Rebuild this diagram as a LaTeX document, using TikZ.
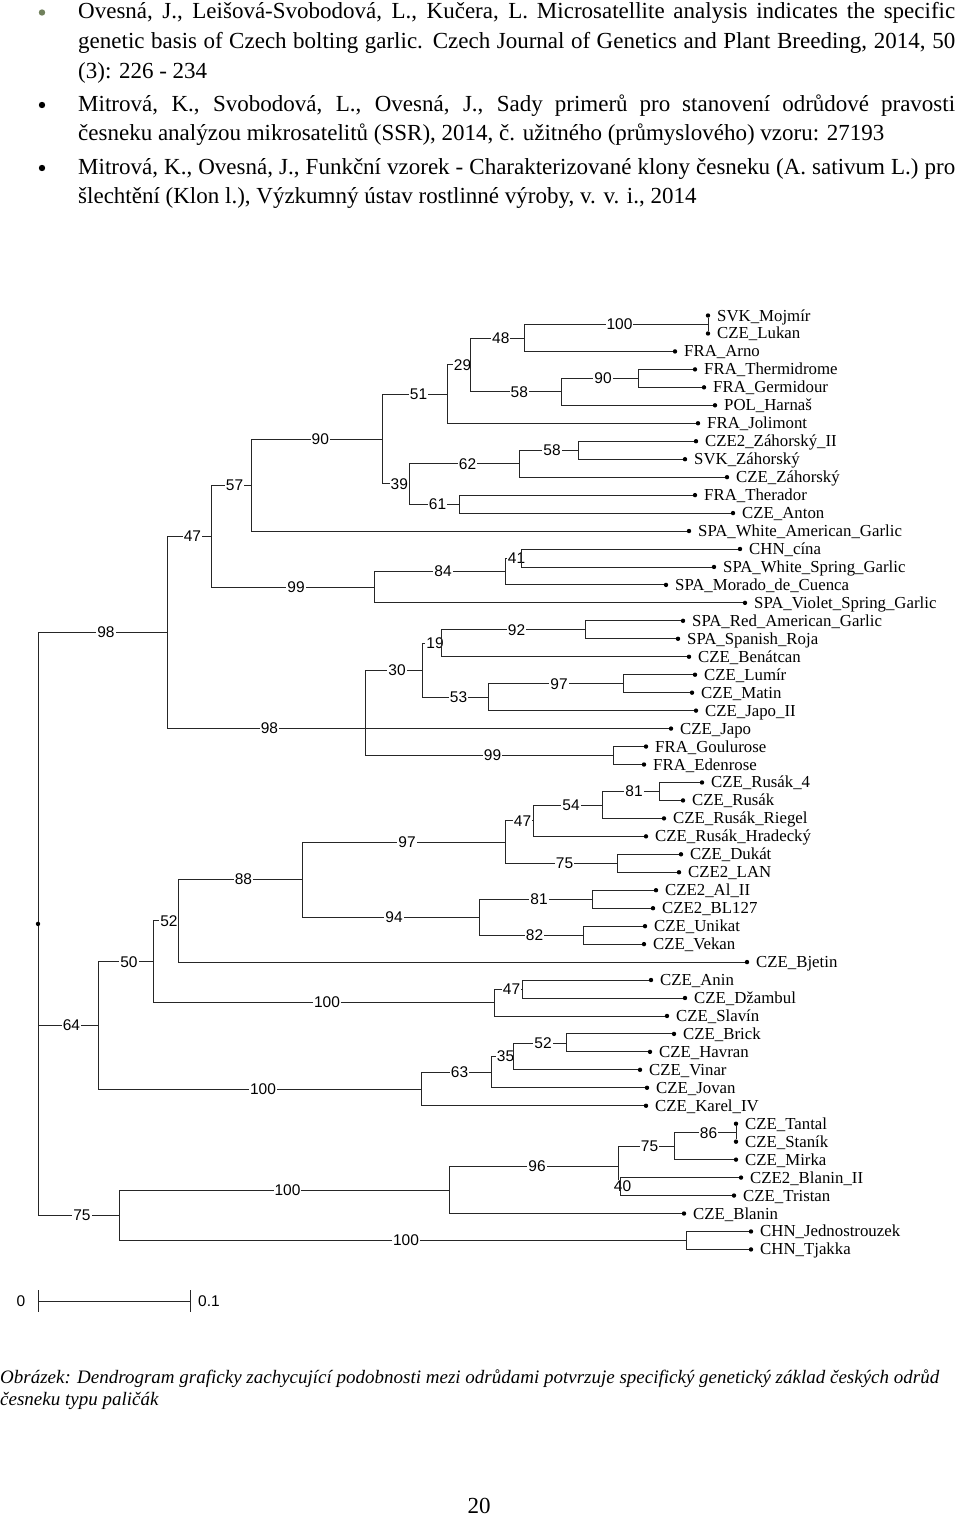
\documentclass[tikz,border=0pt]{standalone}
\usepackage{fontspec}
\setmainfont{Liberation Serif}
\newfontfamily\numfont{Liberation Sans}
\usetikzlibrary{positioning}
\definecolor{bulletgreen}{RGB}{112,128,92}

\begin{document}
\begin{tikzpicture}[x=1pt, y=-1pt,
  every node/.style={inner sep=0pt},
  body/.style ={anchor=base west, font=\fontsize{23}{28}\selectfont},
  capt/.style ={anchor=base west, font=\fontsize{19}{22}\selectfont\itshape},
  bullet/.style={circle, fill=black, minimum size=6.4pt},
  br/.style   ={draw=black!85, line width=0.9pt},
  bs/.style   ={pos=0.75, xshift=3.5pt, fill=white, inner sep=1pt, font=\numfont\fontsize{15.5}{16}\selectfont},
  leaf/.style ={circle, fill=black, minimum size=4.4pt},
  lname/.style={anchor=base west, font=\fontsize{16.8}{18}\selectfont},
  scl/.style  ={font=\numfont\fontsize{15.5}{16}\selectfont},
]

\useasboundingbox (0,0) rectangle (960,1519);

% references above the figure
\node[bullet, fill=bulletgreen] (b1) at (42,12.5) {};
\node[body] (t1) at (78,18.5) {\makebox[877pt][s]{Ovesná, J., Leišová-Svobodová, L., Kučera, L. Microsatellite analysis indicates the specific}};
\node[body] (t2) at (78,48.3) {\makebox[877pt][s]{genetic basis of Czech bolting garlic. Czech Journal of Genetics and Plant Breeding, 2014, 50}};
\node[body] (t3) at (78,78) {(3): 226 - 234};
\node[bullet] (b2) at (42,105) {};
\node[body] (t4) at (78,111) {\makebox[877pt][s]{Mitrová, K., Svobodová, L., Ovesná, J., Sady primerů pro stanovení odrůdové pravosti}};
\node[body] (t5) at (78,140.8) {česneku analýzou mikrosatelitů (SSR), 2014, č. užitného (průmyslového) vzoru: 27193};
\node[bullet] (b3) at (42,168) {};
\node[body] (t6) at (78,174) {\makebox[877pt][s]{Mitrová, K., Ovesná, J., Funkční vzorek - Charakterizované klony česneku (A. sativum L.) pro}};
\node[body] (t7) at (78,203.5) {šlechtění (Klon l.), Výzkumný ústav rostlinné výroby, v. v. i., 2014};

% leaves
\foreach \nm/\xx/\txt [count=\i] in {
  svkmoj/708/SVK\_Mojmír, czeluk/708/CZE\_Lukan, fraarn/675/FRA\_Arno,
  frathe/695/FRA\_Thermidrome, fragerm/704/FRA\_Germidour, polhar/715/POL\_Harnaš,
  frajol/698/FRA\_Jolimont, czezah2/696/CZE2\_Záhorský\_II, svkzah/685/SVK\_Záhorský,
  czezah/727/CZE\_Záhorský, frather/695/FRA\_Therador, czeant/733/CZE\_Anton,
  spawam/689/SPA\_White\_American\_Garlic, chncin/740/CHN\_cína,
  spawsp/714/SPA\_White\_Spring\_Garlic, spamor/666/SPA\_Morado\_de\_Cuenca,
  spavio/745/SPA\_Violet\_Spring\_Garlic, sparam/683/SPA\_Red\_American\_Garlic,
  spaspr/678/SPA\_Spanish\_Roja, czeben/689/CZE\_Benátcan, czelum/695/CZE\_Lumír,
  czemat/692/CZE\_Matin, czejap2/696/CZE\_Japo\_II, czejap/671/CZE\_Japo,
  fragou/646/FRA\_Goulurose, fraede/644/FRA\_Edenrose, czerus4/702/CZE\_Rusák\_4,
  czerus/683/CZE\_Rusák, czerusr/664/CZE\_Rusák\_Riegel, czerush/646/CZE\_Rusák\_Hradecký,
  czeduk/681/CZE\_Dukát, czelan/679/CZE2\_LAN, czeal/656/CZE2\_Al\_II,
  czebl/653/CZE2\_BL127, czeuni/645/CZE\_Unikat, czevek/644/CZE\_Vekan,
  czebje/747/CZE\_Bjetin, czeani/651/CZE\_Anin, czedza/685/CZE\_Džambul,
  czesla/667/CZE\_Slavín, czebri/674/CZE\_Brick, czehav/650/CZE\_Havran,
  czevin/640/CZE\_Vinar, czejov/647/CZE\_Jovan, czekar/646/CZE\_Karel\_IV,
  czetan/736/CZE\_Tantal, czesta/736/CZE\_Staník, czemir/736/CZE\_Mirka,
  czebla2/741/CZE2\_Blanin\_II, czetri/734/CZE\_Tristan, czebla/684/CZE\_Blanin,
  chnjed/751/CHN\_Jednostrouzek, chntja/751/CHN\_Tjakka}{
  \pgfmathsetmacro\yy{315.5+(\i-1)*17.96}
  \node[leaf] (\nm) at (\xx,\yy) {};
  \node[lname] (t\nm) at ({\xx+9},{\yy+5.5}) {\txt};
}

% inner nodes of the tree
\coordinate (root)  at (38,923.9);
\coordinate (n98a)  at (167,632.4);
\coordinate (n47a)  at (211,536.1);
\coordinate (n57)   at (251,485);
\coordinate (n90b)  at (382.5,439);
\coordinate (n51)   at (447.5,394.1);
\coordinate (n29)   at (470.5,364.9);
\coordinate (n48)   at (524,338);
\coordinate (n100a) at (708,324.5);
\coordinate (n58a)  at (561,391.8);
\coordinate (n90a)  at (638,378.4);
\coordinate (n39)   at (409,483.9);
\coordinate (n62)   at (519,463.7);
\coordinate (n58b)  at (578,450.2);
\coordinate (n61)   at (459,504.1);
\coordinate (n99a)  at (374,587.2);
\coordinate (n84)   at (505,571.5);
\coordinate (n41)   at (521,558);
\coordinate (n98b)  at (365,728.6);
\coordinate (n30)   at (422,670.2);
\coordinate (n19)   at (441,643.3);
\coordinate (n92)   at (585,629.8);
\coordinate (n53)   at (488,697.2);
\coordinate (n97a)  at (623,683.7);
\coordinate (n99b)  at (613,755.5);
\coordinate (n64)   at (98,1025.3);
\coordinate (n50)   at (153,961.7);
\coordinate (n52a)  at (178,920.9);
\coordinate (n88)   at (302,879.6);
\coordinate (n97b)  at (505,842);
\coordinate (n47b)  at (533,820.7);
\coordinate (n54)   at (602,805);
\coordinate (n81a)  at (659,791.5);
\coordinate (n75b)  at (617,863.3);
\coordinate (n94)   at (479,917.2);
\coordinate (n81b)  at (592,899.3);
\coordinate (n82)   at (583,935.2);
\coordinate (n100b) at (494,1002.5);
\coordinate (n47c)  at (522,989);
\coordinate (n100c) at (421,1089);
\coordinate (n63)   at (491,1072.1);
\coordinate (n35)   at (513,1056.4);
\coordinate (n52c)  at (566,1043);
\coordinate (n75a)  at (119,1215.3);
\coordinate (n100e) at (449,1190);
\coordinate (n96)   at (618,1166.4);
\coordinate (n75c)  at (674,1146.2);
\coordinate (n86)   at (736,1132.7);
\coordinate (n40)   at (620,1186.6);
\coordinate (n100d) at (686,1240.5);

% upper clade
\draw[br] (root) |- node[bs]{98} (n98a);
\draw[br] (n98a) |- node[bs]{47} (n47a);
\draw[br] (n47a) |- node[bs]{57} (n57);
\draw[br] (n57) |- node[bs]{90} (n90b);
\draw[br] (n90b) |- node[bs]{51} (n51);
\draw[br] (n51) |- node[bs]{29} (n29);
\draw[br] (n29) |- node[bs]{48} (n48);
\draw[br] (n48) |- node[bs]{100} (n100a);
\draw[br] (n100a) -- (svkmoj) (n100a) -- (czeluk);
\draw[br] (n48) |- (fraarn);
\draw[br] (n29) |- node[bs]{58} (n58a);
\draw[br] (n58a) |- node[bs]{90} (n90a);
\draw[br] (n90a) |- (frathe) (n90a) |- (fragerm);
\draw[br] (n58a) |- (polhar);
\draw[br] (n51) |- (frajol);
\draw[br] (n90b) |- node[bs]{39} (n39);
\draw[br] (n39) |- node[bs]{62} (n62);
\draw[br] (n62) |- node[bs]{58} (n58b);
\draw[br] (n58b) |- (czezah2) (n58b) |- (svkzah);
\draw[br] (n62) |- (czezah);
\draw[br] (n39) |- node[bs]{61} (n61);
\draw[br] (n61) |- (frather) (n61) |- (czeant);
\draw[br] (n57) |- (spawam);
\draw[br] (n47a) |- node[bs]{99} (n99a);
\draw[br] (n99a) |- node[bs]{84} (n84);
\draw[br] (n84) |- node[bs]{41} (n41);
\draw[br] (n41) |- (chncin) (n41) |- (spawsp);
\draw[br] (n84) |- (spamor);
\draw[br] (n99a) |- (spavio);
\draw[br] (n98a) |- node[bs]{98} (n98b);
\draw[br] (n98b) |- node[bs]{30} (n30);
\draw[br] (n30) |- node[bs]{19} (n19);
\draw[br] (n19) |- node[bs]{92} (n92);
\draw[br] (n92) |- (sparam) (n92) |- (spaspr);
\draw[br] (n19) |- (czeben);
\draw[br] (n30) |- node[bs]{53} (n53);
\draw[br] (n53) |- node[bs]{97} (n97a);
\draw[br] (n97a) |- (czelum) (n97a) |- (czemat);
\draw[br] (n53) |- (czejap2);
\draw[br] (n98b) |- (czejap);
\draw[br] (n98b) |- node[bs]{99} (n99b);
\draw[br] (n99b) |- (fragou) (n99b) |- (fraede);

% middle clade
\draw[br] (root) |- node[bs]{64} (n64);
\draw[br] (n64) |- node[bs]{50} (n50);
\draw[br] (n50) |- node[bs]{52} (n52a);
\draw[br] (n52a) |- node[bs]{88} (n88);
\draw[br] (n88) |- node[bs]{97} (n97b);
\draw[br] (n97b) |- node[bs]{47} (n47b);
\draw[br] (n47b) |- node[bs]{54} (n54);
\draw[br] (n54) |- node[bs]{81} (n81a);
\draw[br] (n81a) |- (czerus4) (n81a) |- (czerus);
\draw[br] (n54) |- (czerusr);
\draw[br] (n47b) |- (czerush);
\draw[br] (n97b) |- node[bs]{75} (n75b);
\draw[br] (n75b) |- (czeduk) (n75b) |- (czelan);
\draw[br] (n88) |- node[bs]{94} (n94);
\draw[br] (n94) |- node[bs]{81} (n81b);
\draw[br] (n81b) |- (czeal) (n81b) |- (czebl);
\draw[br] (n94) |- node[bs]{82} (n82);
\draw[br] (n82) |- (czeuni) (n82) |- (czevek);
\draw[br] (n52a) |- (czebje);
\draw[br] (n50) |- node[bs]{100} (n100b);
\draw[br] (n100b) |- node[bs]{47} (n47c);
\draw[br] (n47c) |- (czeani) (n47c) |- (czedza);
\draw[br] (n100b) |- (czesla);
\draw[br] (n64) |- node[bs]{100} (n100c);
\draw[br] (n100c) |- node[bs]{63} (n63);
\draw[br] (n63) |- node[bs]{35} (n35);
\draw[br] (n35) |- node[bs]{52} (n52c);
\draw[br] (n52c) |- (czebri) (n52c) |- (czehav);
\draw[br] (n35) |- (czevin);
\draw[br] (n63) |- (czejov);
\draw[br] (n100c) |- (czekar);

% lower clade
\draw[br] (root) |- node[bs]{75} (n75a);
\draw[br] (n75a) |- node[bs]{100} (n100e);
\draw[br] (n100e) |- node[bs]{96} (n96);
\draw[br] (n96) |- node[bs]{75} (n75c);
\draw[br] (n75c) |- node[bs]{86} (n86);
\draw[br] (n86) -- (czetan) (n86) -- (czesta);
\draw[br] (n75c) |- (czemir);
\draw[br] (n96) |- node[bs]{40} (n40);
\draw[br] (n40) |- (czebla2) (n40) |- (czetri);
\draw[br] (n100e) |- (czebla);
\draw[br] (n75a) |- node[bs]{100} (n100d);
\draw[br] (n100d) |- (chnjed) (n100d) |- (chntja);
\node[leaf] (rootdot) at (root) {};

% scale bar
\coordinate (sb0) at (38,1301);
\coordinate (sb1) at (190,1301);
\draw[br] (sb0) -- (sb1);
\draw[br] ([yshift=11pt]sb0) -- ([yshift=-11pt]sb0);
\draw[br] ([yshift=11pt]sb1) -- ([yshift=-11pt]sb1);
\node[scl] (s0) at (21,1301) {0};
\node[scl] (s1) at (209,1301) {0.1};

% caption and page number
\node[capt] (cap1) at (0,1383) {Obrázek: Dendrogram graficky zachycující podobnosti mezi odrůdami potvrzuje specifický genetický základ českých odrůd};
\node[capt] (cap2) at (0,1405) {česneku typu paličák};
\node[anchor=base, font=\fontsize{23}{26}\selectfont] (pg) at (479,1513) {20};

\end{tikzpicture}
\end{document}
